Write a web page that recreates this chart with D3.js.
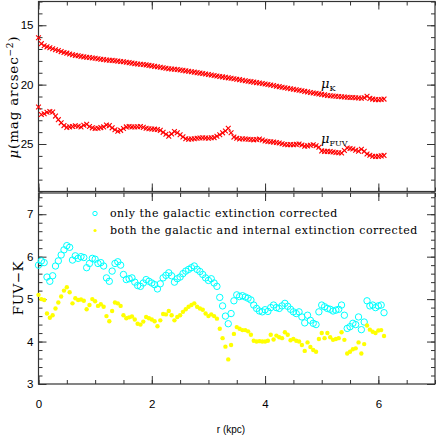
<!DOCTYPE html>
<html>
<head>
<meta charset="utf-8">
<script src="https://d3js.org/d3.v7.min.js"></script>
<style>
  body { margin: 0; background: #fff; }
  svg { display: block; }
</style>
</head>
<body>
<svg width="436" height="436"></svg>
<script>
// radial bins (kpc)
var radius = [
  0.00,0.05,0.10,0.15,0.20,0.25,0.30,0.35,0.40,0.45,
  0.50,0.55,0.60,0.65,0.70,0.75,0.80,0.85,0.90,0.95,
  1.00,1.05,1.10,1.15,1.20,1.25,1.30,1.35,1.40,1.45,
  1.50,1.55,1.60,1.65,1.70,1.75,1.80,1.85,1.90,1.95,
  2.00,2.05,2.10,2.15,2.20,2.25,2.30,2.35,2.40,2.45,
  2.50,2.55,2.60,2.65,2.70,2.75,2.80,2.85,2.90,2.95,
  3.00,3.05,3.10,3.15,3.20,3.25,3.30,3.35,3.40,3.45,
  3.50,3.55,3.60,3.65,3.70,3.75,3.80,3.85,3.90,3.95,
  4.00,4.05,4.10,4.15,4.20,4.25,4.30,4.35,4.40,4.45,
  4.50,4.55,4.60,4.65,4.70,4.75,4.80,4.85,4.90,4.95,
  5.00,5.05,5.10,5.15,5.20,5.25,5.30,5.35,5.40,5.45,
  5.50,5.55,5.60,5.65,5.70,5.75,5.80,5.85,5.90,5.95,
  6.00,6.05,6.10];

// K band surface brightness
var muK = [
  16.05,16.55,16.72,16.82,16.90,16.98,17.06,17.12,17.22,17.30,
  17.35,17.42,17.48,17.54,17.57,17.62,17.66,17.69,17.72,17.76,
  17.78,17.82,17.86,17.89,17.92,17.95,17.96,17.99,18.02,18.05,
  18.08,18.12,18.15,18.19,18.23,18.26,18.29,18.31,18.34,18.38,
  18.42,18.46,18.50,18.54,18.58,18.62,18.66,18.68,18.70,18.73,
  18.77,18.80,18.84,18.88,18.92,18.95,18.99,19.03,19.06,19.10,
  19.15,19.19,19.23,19.27,19.31,19.35,19.39,19.43,19.47,19.51,
  19.55,19.58,19.63,19.67,19.71,19.75,19.79,19.83,19.87,19.91,
  19.95,19.99,20.03,20.08,20.13,20.17,20.22,20.27,20.31,20.35,
  20.39,20.43,20.48,20.52,20.57,20.61,20.66,20.70,20.74,20.78,
  20.82,20.86,20.91,20.94,20.96,20.98,21.00,21.02,21.04,21.06,
  21.08,21.09,21.11,21.13,21.15,21.10,20.98,21.16,21.22,21.26,
  21.28,21.25,21.22];

// FUV surface brightness
var muFUV = [
  21.88,22.52,22.45,22.32,22.26,22.30,22.65,22.95,23.22,23.45,
  23.60,23.56,23.52,23.46,23.50,23.57,23.42,23.34,23.52,23.64,
  23.70,23.68,23.62,23.56,23.40,23.45,23.64,23.80,23.93,23.85,
  23.70,23.56,23.52,23.56,23.57,23.55,23.52,23.60,23.68,23.72,
  23.73,23.75,23.78,23.85,24.02,24.18,24.34,24.15,23.95,24.05,
  24.22,24.40,24.56,24.60,24.58,24.56,24.52,24.50,24.48,24.50,
  24.52,24.48,24.46,24.35,24.22,24.06,23.90,23.68,24.05,24.42,
  24.52,24.58,24.56,24.58,24.60,24.62,24.65,24.62,24.58,24.66,
  24.75,24.79,24.81,24.84,24.88,24.92,24.98,25.04,25.06,25.05,
  25.06,25.03,25.00,25.08,25.18,25.16,25.10,25.06,25.15,25.28,
  25.58,25.62,25.62,25.64,25.68,25.71,25.73,25.76,25.55,25.34,
  25.38,25.42,25.52,25.60,25.44,25.62,25.84,25.95,26.03,26.05,
  26.04,26.00,25.96];

// FUV-K, only galactic extinction corrected
var colorGal = [
  5.80,5.90,5.86,5.52,5.42,5.55,5.78,5.90,6.04,6.16,
  6.26,6.22,5.92,6.02,5.96,6.00,5.98,5.74,5.84,5.96,
  5.94,5.84,5.86,5.78,5.50,5.42,5.66,5.84,5.88,5.80,
  5.58,5.46,5.48,5.50,5.40,5.32,5.30,5.38,5.46,5.42,
  5.38,5.34,5.24,5.36,5.50,5.56,5.62,5.55,5.40,5.48,
  5.52,5.60,5.66,5.70,5.74,5.78,5.70,5.65,5.58,5.50,
  5.44,5.48,5.38,5.30,5.04,4.84,4.60,4.42,4.66,4.96,
  5.10,5.06,5.08,5.05,5.02,4.98,4.86,4.78,4.72,4.70,
  4.75,4.71,4.80,4.86,4.80,4.78,4.84,4.90,4.83,4.76,
  4.70,4.66,4.70,4.58,4.44,4.62,4.50,4.43,4.40,4.70,
  4.86,4.82,4.78,4.76,4.72,4.74,4.76,4.86,4.62,4.31,
  4.35,4.43,4.40,4.58,4.28,4.46,4.96,4.84,4.86,4.80,
  4.84,4.86,4.68];

// FUV-K, galactic and internal extinction corrected
var colorAll = [
  5.10,5.00,4.98,4.66,4.56,4.62,4.78,4.92,5.06,5.20,
  5.28,5.16,4.90,5.02,4.98,4.99,4.96,4.76,4.86,5.00,
  4.95,4.84,4.88,4.82,4.60,4.48,4.72,4.92,4.90,4.84,
  4.62,4.55,4.57,4.59,4.52,4.42,4.40,4.47,4.58,4.55,
  4.52,4.48,4.36,4.50,4.65,4.64,4.72,4.62,4.50,4.58,
  4.62,4.70,4.76,4.82,4.86,4.90,4.82,4.78,4.75,4.66,
  4.60,4.64,4.60,4.54,4.30,4.08,3.88,3.58,3.92,4.18,
  4.34,4.30,4.27,4.27,4.24,4.16,4.02,4.00,4.01,4.00,
  4.00,4.02,4.16,4.05,4.14,4.10,4.08,4.22,4.16,4.03,
  4.06,4.02,4.00,3.92,3.78,3.98,3.87,3.80,3.76,4.06,
  4.20,4.08,4.20,4.10,4.04,4.06,4.08,4.22,4.04,3.72,
  3.76,3.82,3.84,3.98,3.72,3.94,4.38,4.28,4.23,4.20,
  4.26,4.27,4.13];

// tick values
var xMajor = [0, 2, 4, 6];
var topMajor = [15, 20, 25];
var botMajor = [3, 4, 5, 6, 7];

var legendLabels = ["only the galactic extinction corrected",
                    "both the galactic and internal extinction corrected"];

var svg = d3.select("svg");
var tickFont = "'Liberation Sans', Arial, sans-serif";
var serifFont = "'DejaVu Serif', serif";
var frameColor = "#333";

// panel geometry
var left = 38.5, right = 435;
var x = d3.scaleLinear().domain([0, 7]).range([left, right]);
var yTop = d3.scaleLinear().domain([13, 29]).range([1.5, 191.5]);
var yBot = d3.scaleLinear().domain([3, 7.5]).range([384, 193]);

var xMinor = d3.range(0, 7.01, 0.5);
var topMinor = d3.range(13, 29.01, 1);
var botMinor = d3.range(3, 7.51, 0.2);

// draws frame + inward ticks on all four sides of a panel
function drawPanel(y, yMajor, yMinorVals, showX) {
    var y0 = Math.max.apply(null, y.range()), y1 = Math.min.apply(null, y.range());
    var g = svg.append("g");

    function tickAxis(axis, tx, ty) {
        var a = g.append("g")
            .attr("transform", "translate(" + tx + "," + ty + ")")
            .call(axis);
        a.select(".domain").remove();
        a.selectAll(".tick line").attr("stroke", frameColor).attr("stroke-width", 1);
        a.selectAll(".tick text").attr("font-family", tickFont).attr("font-size", 11.5).attr("fill", "#000");
        return a;
    }

    // y axes
    tickAxis(d3.axisLeft(y).tickValues(yMinorVals).tickSize(-4).tickFormat(""), left, 0);
    tickAxis(d3.axisLeft(y).tickValues(yMajor).tickSize(-8).tickPadding(5).tickFormat(d3.format("d")), left, 0);
    tickAxis(d3.axisRight(y).tickValues(yMinorVals).tickSize(-4).tickFormat(""), right, 0);
    tickAxis(d3.axisRight(y).tickValues(yMajor).tickSize(-8).tickFormat(""), right, 0);

    // x axes (bottom and top)
    tickAxis(d3.axisBottom(x).tickValues(xMinor).tickSize(-4).tickFormat(""), 0, y0);
    tickAxis(d3.axisBottom(x).tickValues(xMajor).tickSize(-8).tickPadding(16)
        .tickFormat(showX ? d3.format("d") : ""), 0, y0);
    tickAxis(d3.axisTop(x).tickValues(xMinor).tickSize(-4).tickFormat(""), 0, y1);
    tickAxis(d3.axisTop(x).tickValues(xMajor).tickSize(-8).tickFormat(""), 0, y1);

    g.append("rect")
        .attr("x", left).attr("y", y1)
        .attr("width", right - left).attr("height", y0 - y1)
        .attr("fill", "none")
        .attr("stroke", frameColor)
        .attr("stroke-width", 1.2);
}

drawPanel(yTop, topMajor, topMinor, false);
drawPanel(yBot, botMajor, botMinor, true);

// surface brightness profiles (red crosses)
var crossPath = "M-2.4,-2.4L2.4,2.4M2.4,-2.4L-2.4,2.4";
[muK, muFUV].forEach(function(series) {
    svg.append("g")
        .selectAll("path")
        .data(radius.map(function(r, i) { return [r, series[i]]; }))
        .enter().append("path")
        .attr("d", crossPath)
        .attr("transform", function(d) { return "translate(" + x(d[0]) + "," + yTop(d[1]) + ")"; })
        .attr("fill", "none")
        .attr("stroke", "#ff0000")
        .attr("stroke-width", 1.1);
});

// colour profiles
svg.append("g")
    .selectAll("circle")
    .data(radius.map(function(r, i) { return [r, colorGal[i]]; }))
    .enter().append("circle")
    .attr("cx", function(d) { return x(d[0]); })
    .attr("cy", function(d) { return yBot(d[1]); })
    .attr("r", 3.2)
    .attr("fill", "none")
    .attr("stroke", "#00ffff")
    .attr("stroke-width", 1);

svg.append("g")
    .selectAll("circle")
    .data(radius.map(function(r, i) { return [r, colorAll[i]]; }))
    .enter().append("circle")
    .attr("cx", function(d) { return x(d[0]); })
    .attr("cy", function(d) { return yBot(d[1]); })
    .attr("r", 2.2)
    .attr("fill", "#ffff00");

// legend
var legend = svg.append("g")
    .selectAll("g")
    .data(legendLabels)
    .enter().append("g")
    .attr("transform", function(d, i) { return "translate(95," + (213.5 + i * 17) + ")"; });

legend.append("circle")
    .attr("r", function(d, i) { return i === 0 ? 2.2 : 1.6; })
    .attr("fill", function(d, i) { return i === 0 ? "none" : "#ffff00"; })
    .attr("stroke", function(d, i) { return i === 0 ? "#00ffff" : "none"; })
    .attr("stroke-width", 1);

legend.append("text")
    .attr("x", 15)
    .attr("dy", "0.33em")
    .attr("font-family", serifFont)
    .attr("font-size", 11)
    .attr("letter-spacing", 0.5)
    .text(function(d) { return d; });

// curve labels
function muLabel(px, py, sub) {
    var t = svg.append("text")
        .attr("x", px).attr("y", py)
        .attr("font-family", serifFont)
        .attr("font-size", 13);
    t.append("tspan").attr("font-style", "italic").text("μ");
    t.append("tspan").attr("font-size", 8).attr("dy", 3).text(sub);
}
muLabel(321, 88, "K");
muLabel(321, 143, "FUV");

// axis titles
var yTitle = svg.append("text")
    .attr("transform", "translate(18,97) rotate(-90)")
    .attr("text-anchor", "middle")
    .attr("font-family", serifFont)
    .attr("font-size", 13.5)
    .attr("letter-spacing", 0.8);
yTitle.append("tspan").attr("font-style", "italic").text("μ");
yTitle.append("tspan").text("(mag arcsec");
yTitle.append("tspan").attr("font-size", 9).attr("dy", -5).text("−2");
yTitle.append("tspan").attr("dy", 5).text(")");

svg.append("text")
    .attr("transform", "translate(23,288) rotate(-90)")
    .attr("text-anchor", "middle")
    .attr("font-family", serifFont)
    .attr("font-size", 13.5)
    .attr("letter-spacing", 0.5)
    .text("FUV−K");

svg.append("text")
    .attr("x", 231)
    .attr("y", 433)
    .attr("text-anchor", "middle")
    .attr("font-family", tickFont)
    .attr("font-size", 10)
    .text("r (kpc)");
</script>
</body>
</html>
